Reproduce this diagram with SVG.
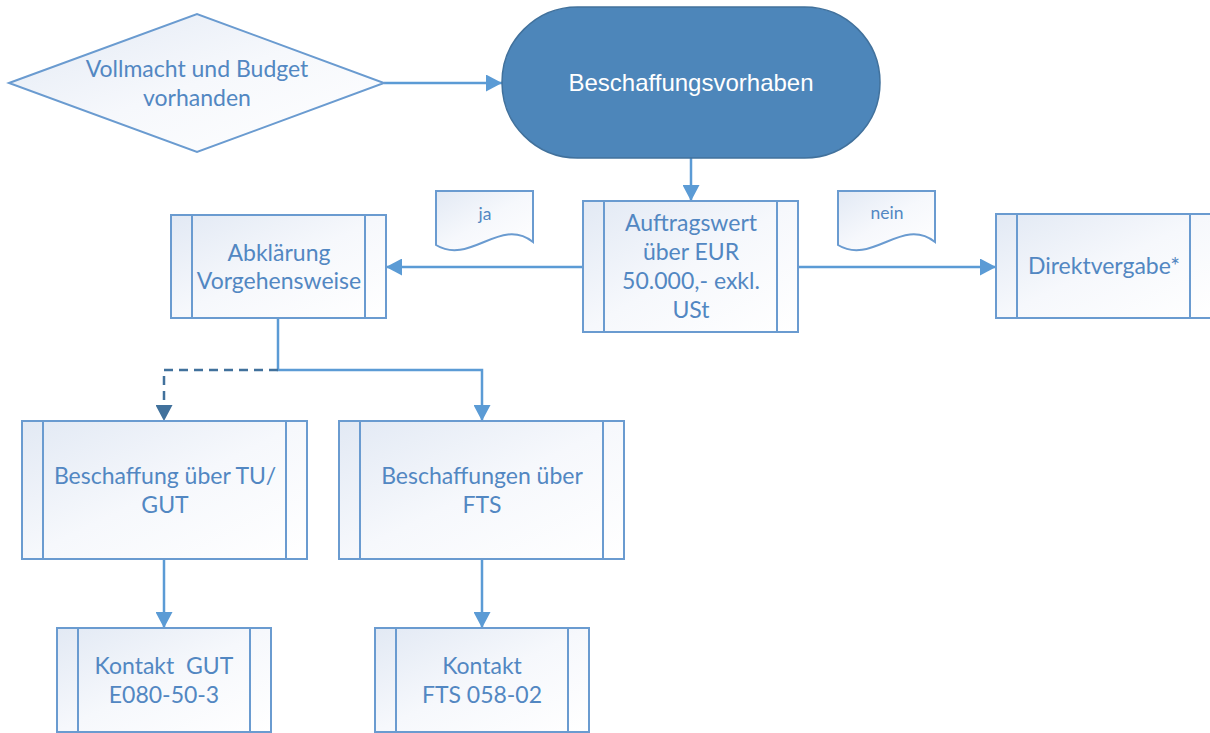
<svg xmlns="http://www.w3.org/2000/svg" width="1210" height="733" viewBox="0 0 1210 733">
<defs>
<linearGradient id="g" x1="0" y1="0" x2="1" y2="1">
<stop offset="0" stop-color="#e2e9f4"/>
<stop offset="0.5" stop-color="#f6f8fc"/>
<stop offset="1" stop-color="#ffffff"/>
</linearGradient>
<marker id="a" markerUnits="userSpaceOnUse" markerWidth="16" markerHeight="17" refX="16" refY="8.5" orient="auto">
<path d="M0,0 L16,8.5 L0,17 z" fill="#5b9bd5"/>
</marker>
<marker id="ad" markerUnits="userSpaceOnUse" markerWidth="16" markerHeight="17" refX="16" refY="8.5" orient="auto">
<path d="M0,0 L16,8.5 L0,17 z" fill="#41719c"/>
</marker>
</defs>
<style>
.box{fill:url(#g);stroke:#6a9bd0;stroke-width:2}
.in{stroke:#6a9bd0;stroke-width:2;fill:none}
.t{font-family:Lato,"Liberation Sans",sans-serif;font-size:23px;fill:#5287c2;text-anchor:middle}
.s{font-family:Lato,"Liberation Sans",sans-serif;font-size:17.5px;fill:#5287c2;text-anchor:middle}
.c{fill:none;stroke:#5b9bd5;stroke-width:2.5}
.d{fill:none;stroke:#41719c;stroke-width:2.5;stroke-dasharray:9,6}
</style>
<g id="connectors">
<path class="c" d="M384,83 H502" marker-end="url(#a)"/>
<path class="c" d="M691,158 V201" marker-end="url(#a)"/>
<path class="c" d="M583,267 H386" marker-end="url(#a)"/>
<path class="c" d="M798,267 H996" marker-end="url(#a)"/>
<path class="c" d="M278,318 V370 H482 V421" marker-end="url(#a)"/>
<path class="d" d="M278,370 H164 V421" marker-end="url(#ad)"/>
<path class="c" d="M164,559 V628" marker-end="url(#a)"/>
<path class="c" d="M482,559 V628" marker-end="url(#a)"/>
</g>
<g id="n-diamond">
<polygon class="box" points="9,83 197,14 384,83 197,152"/>
<text class="t" x="197" y="77">Vollmacht und Budget</text>
<text class="t" x="197" y="106">vorhanden</text>
</g>
<g id="n-start">
<rect x="502" y="7" width="378" height="151" rx="75.5" fill="#4d86ba" stroke="#41719c" stroke-width="1.5"/>
<text x="691" y="91" font-family="'Liberation Sans',Arial,sans-serif" font-size="24" fill="#ffffff" text-anchor="middle">Beschaffungsvorhaben</text>
</g>
<g id="n-ja">
<path class="box" d="M436,191 H533 V242 C500,216 470,266 436,245 Z"/>
<text class="s" x="485" y="220">ja</text>
</g>
<g id="n-nein">
<path class="box" d="M838,191 H935 V242 C902,216 872,266 838,245 Z"/>
<text class="s" x="887" y="219">nein</text>
</g>
<g id="n-auftrag">
<rect class="box" x="583" y="201" width="215" height="131"/>
<path class="in" d="M604,201 V332 M777,201 V332"/>
<text class="t" x="691" y="231">Auftragswert</text>
<text class="t" x="691" y="260">über EUR</text>
<text class="t" x="691" y="289">50.000,- exkl.</text>
<text class="t" x="691" y="318">USt</text>
</g>
<g id="n-abklaerung">
<rect class="box" x="171" y="215" width="215" height="103"/>
<path class="in" d="M192,215 V318 M365,215 V318"/>
<text class="t" x="279" y="261">Abklärung</text>
<text class="t" x="279" y="289">Vorgehensweise</text>
</g>
<g id="n-direkt">
<rect class="box" x="996" y="214" width="215" height="104"/>
<path class="in" d="M1017,214 V318 M1190,214 V318"/>
<text class="t" x="1104" y="274">Direktvergabe*</text>
</g>
<g id="n-tugut">
<rect class="box" x="22" y="421" width="285" height="138"/>
<path class="in" d="M43,421 V559 M286,421 V559"/>
<text class="t" x="165" y="484">Beschaffung über TU/</text>
<text class="t" x="165" y="513">GUT</text>
</g>
<g id="n-fts">
<rect class="box" x="339" y="421" width="285" height="138"/>
<path class="in" d="M360,421 V559 M603,421 V559"/>
<text class="t" x="482" y="484">Beschaffungen über</text>
<text class="t" x="482" y="513">FTS</text>
</g>
<g id="n-kontakt-gut">
<rect class="box" x="57" y="628" width="214" height="104"/>
<path class="in" d="M78,628 V732 M250,628 V732"/>
<text class="t" x="164" y="674" xml:space="preserve">Kontakt  GUT</text>
<text class="t" x="164" y="703">E080-50-3</text>
</g>
<g id="n-kontakt-fts">
<rect class="box" x="375" y="628" width="214" height="104"/>
<path class="in" d="M396,628 V732 M568,628 V732"/>
<text class="t" x="482" y="674">Kontakt</text>
<text class="t" x="482" y="703">FTS 058-02</text>
</g>
</svg>
